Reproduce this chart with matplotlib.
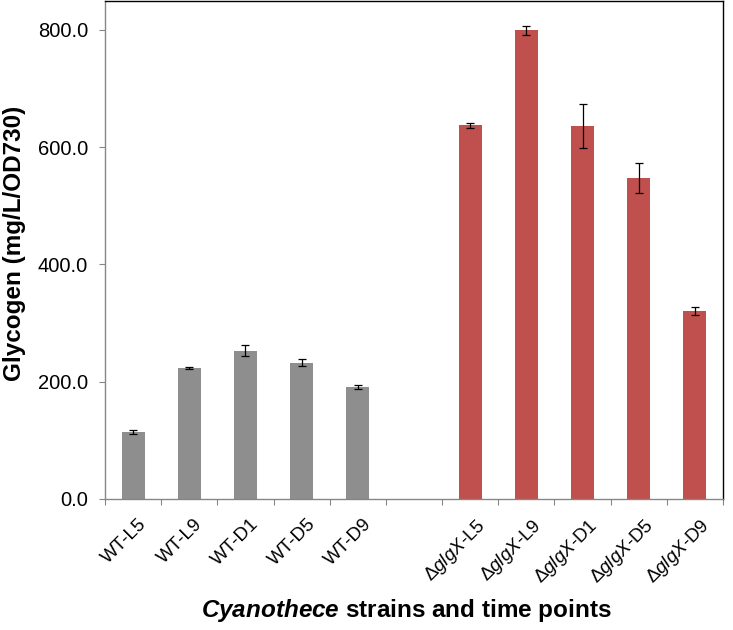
import numpy as np
import matplotlib
matplotlib.use("Agg")
import matplotlib.pyplot as plt
import matplotlib.transforms as mtransforms
from matplotlib.ticker import FormatStrFormatter, FixedLocator

plt.rcParams['font.family'] = ['Liberation Sans', 'DejaVu Sans']
plt.rcParams['mathtext.fontset'] = 'custom'
plt.rcParams['mathtext.rm'] = 'Liberation Sans'
plt.rcParams['mathtext.it'] = 'Liberation Sans:italic'
plt.rcParams['mathtext.bf'] = 'Liberation Sans:bold'
plt.rcParams['mathtext.bfit'] = 'Liberation Sans:italic:bold'

# ---- data ----
wt_labels = ['WT-L5', 'WT-L9', 'WT-D1', 'WT-D5', 'WT-D9']
wt_values = [114, 223, 253, 232, 191]
wt_errors = [3, 1.5, 10, 6, 3.5]

mut_labels = ['Δ$\\mathit{glgX}$-L5', 'Δ$\\mathit{glgX}$-L9', 'Δ$\\mathit{glgX}$-D1',
              'Δ$\\mathit{glgX}$-D5', 'Δ$\\mathit{glgX}$-D9']
mut_values = [637, 799, 636, 547, 321]
mut_errors = [4, 8, 38, 26, 7]

y_ticks = [0, 200, 400, 600, 800]

# ---- figure ----
fig = plt.figure(figsize=(7.33, 6.30), dpi=100)
ax = fig.add_axes([105/733, 1 - 498.9/630, 618/733, 498.4/630])

n_wt = len(wt_labels)
x_wt = np.arange(n_wt)
x_mut = np.arange(len(mut_labels)) + n_wt + 1
n_total = n_wt + 1 + len(mut_labels)

bw = 0.41
ekw = dict(ecolor='black', elinewidth=0.9, capsize=2.8, capthick=0.9)
ax.bar(x_wt, wt_values, width=bw, color='#8e8e8e', yerr=wt_errors,
       error_kw=ekw, zorder=2)
ax.bar(x_mut, mut_values, width=bw, color='#c0504d', yerr=mut_errors,
       error_kw=ekw, zorder=2)

ax.set_xlim(-0.5, n_total - 0.5)
ax.set_ylim(0, 850)

# y axis
ax.set_yticks(y_ticks)
ax.yaxis.set_major_formatter(FormatStrFormatter('%.1f'))
ax.tick_params(axis='y', direction='out', length=4.3, width=0.8, color='#868686',
               pad=8, labelsize=14.5, labelcolor='black')

# x axis
ax.set_xticks(list(x_wt) + list(x_mut))
ax.set_xticklabels(wt_labels + mut_labels, rotation=45, ha='right', va='top',
                   rotation_mode='anchor', fontsize=13.5)
ax.tick_params(axis='x', which='major', length=0, pad=12)
ax.xaxis.set_minor_locator(FixedLocator(np.arange(n_total + 1) - 0.5))
ax.tick_params(axis='x', which='minor', direction='out', length=4.3, width=0.8,
               color='#868686')
offset = mtransforms.ScaledTranslation(5/100, 0, fig.dpi_scale_trans)
for lab in ax.get_xticklabels():
    lab.set_transform(lab.get_transform() + offset)

# spines
ax.spines['left'].set_color('#868686')
ax.spines['bottom'].set_color('#868686')
ax.spines['top'].set_color('black')
ax.spines['right'].set_color('black')
for s in ax.spines.values():
    s.set_linewidth(1.0)

# axis labels
fig.text(15/733, 1 - 243/630, 'Glycogen (mg/L/OD730)', rotation=90,
         ha='center', va='center', fontsize=17.5, fontweight='bold')
fig.text(406/733, 1 - 617/630, '$\\mathbfit{Cyanothece}$ strains and time points',
         ha='center', va='baseline', fontsize=17.5, fontweight='bold')

fig.savefig('out.png', dpi=100)
